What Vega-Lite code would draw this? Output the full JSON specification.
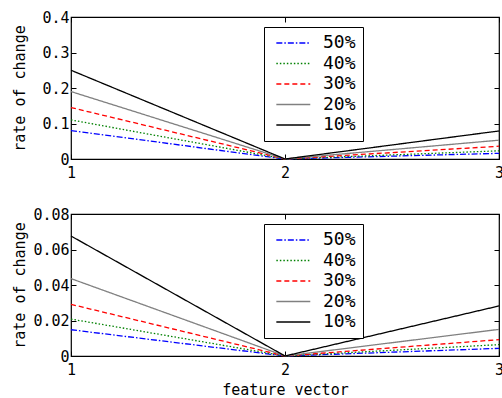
{
  "$schema": "https://vega.github.io/schema/vega-lite/v6.json",
  "background": "white",
  "padding": {"left": 11, "top": 9, "right": 3, "bottom": 2},
  "datasets": {
    "top": [
      {"x": 1, "level": "50%", "value": 0.08},
      {"x": 2, "level": "50%", "value": 0.0},
      {"x": 3, "level": "50%", "value": 0.016},
      {"x": 1, "level": "40%", "value": 0.11},
      {"x": 2, "level": "40%", "value": 0.0},
      {"x": 3, "level": "40%", "value": 0.023},
      {"x": 1, "level": "30%", "value": 0.145},
      {"x": 2, "level": "30%", "value": 0.0},
      {"x": 3, "level": "30%", "value": 0.036},
      {"x": 1, "level": "20%", "value": 0.19},
      {"x": 2, "level": "20%", "value": 0.0},
      {"x": 3, "level": "20%", "value": 0.053},
      {"x": 1, "level": "10%", "value": 0.25},
      {"x": 2, "level": "10%", "value": 0.0},
      {"x": 3, "level": "10%", "value": 0.079}
    ],
    "bottom": [
      {"x": 1, "level": "50%", "value": 0.0148},
      {"x": 2, "level": "50%", "value": 0.0},
      {"x": 3, "level": "50%", "value": 0.0043},
      {"x": 1, "level": "40%", "value": 0.0208},
      {"x": 2, "level": "40%", "value": 0.0},
      {"x": 3, "level": "40%", "value": 0.0064},
      {"x": 1, "level": "30%", "value": 0.0291},
      {"x": 2, "level": "30%", "value": 0.0},
      {"x": 3, "level": "30%", "value": 0.0092},
      {"x": 1, "level": "20%", "value": 0.0436},
      {"x": 2, "level": "20%", "value": 0.0},
      {"x": 3, "level": "20%", "value": 0.015},
      {"x": 1, "level": "10%", "value": 0.0676},
      {"x": 2, "level": "10%", "value": 0.0},
      {"x": 3, "level": "10%", "value": 0.0282}
    ]
  },
  "config": {
    "view": {"stroke": "black", "strokeWidth": 1.2},
    "font": "DejaVu Sans Mono",
    "axis": {
      "domain": false,
      "grid": false,
      "tickSize": -5,
      "tickColor": "black",
      "labelColor": "black",
      "labelFont": "DejaVu Sans Mono",
      "labelFontSize": 15,
      "labelOverlap": false,
      "titleFont": "DejaVu Sans Mono",
      "titleFontSize": 15,
      "titleFontWeight": "normal",
      "titleColor": "black"
    },
    "legend": {
      "orient": "none",
      "legendX": 193,
      "legendY": 10,
      "strokeColor": "black",
      "fillColor": "white",
      "padding": 7,
      "symbolOffset": 2,
      "symbolType": "M-1,0L5,0",
      "symbolSize": 128,
      "symbolStrokeWidth": 1.3,
      "labelFont": "DejaVu Sans Mono",
      "labelFontSize": 18,
      "labelColor": "black",
      "labelOffset": 32,
      "rowPadding": 2.5,
      "title": null
    }
  },
  "vconcat": [
    {
      "width": 428,
      "height": 142,
      "data": {"name": "top"},
      "layer": [
        {
          "mark": {"type": "line", "strokeWidth": 1.3},
          "encoding": {
            "x": {"field": "x", "type": "quantitative", "scale": {"domain": [1, 3], "nice": false},
                  "axis": {"tickCount": 2, "format": "d", "title": null, "labelPadding": 11, "labelFlush": false}},
            "y": {"field": "value", "type": "quantitative", "scale": {"domain": [0, 0.4], "nice": false},
                  "axis": {"values": [0, 0.1, 0.2, 0.3, 0.4], "format": "~g", "title": "rate of change", "labelPadding": 7, "labelFlush": false, "titleX": -52, "titleBaseline": "middle"}},
            "color": {"field": "level", "type": "nominal",
                      "scale": {"domain": ["50%", "40%", "30%", "20%", "10%"], "range": ["#0000ff", "#008000", "#ff0000", "#808080", "#000000"]}},
            "strokeDash": {"field": "level", "type": "nominal",
                      "scale": {"domain": ["50%", "40%", "30%", "20%", "10%"], "range": [[6, 2, 1.5, 2], [1.5, 2], [5, 3], [1, 0], [1, 0]]}}
          }
        },
        {
          "mark": {"type": "line", "strokeOpacity": 0},
          "encoding": {
            "x": {"field": "x", "type": "quantitative", "scale": {"domain": [1, 3], "nice": false},
                  "axis": {"orient": "top", "tickCount": 2, "labels": false, "title": null}},
            "y": {"field": "value", "type": "quantitative", "scale": {"domain": [0, 0.4], "nice": false},
                  "axis": {"orient": "right", "values": [0, 0.1, 0.2, 0.3, 0.4], "labels": false, "title": null}},
            "detail": {"field": "level"}
          }
        }
      ],
      "resolve": {"axis": {"x": "independent", "y": "independent"}}
    },
    {
      "width": 428,
      "height": 142,
      "data": {"name": "bottom"},
      "layer": [
        {
          "mark": {"type": "line", "strokeWidth": 1.3},
          "encoding": {
            "x": {"field": "x", "type": "quantitative", "scale": {"domain": [1, 3], "nice": false},
                  "axis": {"tickCount": 2, "format": "d", "title": "feature vector", "labelPadding": 11, "labelFlush": false, "titlePadding": 5}},
            "y": {"field": "value", "type": "quantitative", "scale": {"domain": [0, 0.08], "nice": false},
                  "axis": {"values": [0, 0.02, 0.04, 0.06, 0.08], "format": "~g", "title": "rate of change", "labelPadding": 7, "labelFlush": false, "titleX": -52, "titleBaseline": "middle"}},
            "color": {"field": "level", "type": "nominal",
                      "scale": {"domain": ["50%", "40%", "30%", "20%", "10%"], "range": ["#0000ff", "#008000", "#ff0000", "#808080", "#000000"]}},
            "strokeDash": {"field": "level", "type": "nominal",
                      "scale": {"domain": ["50%", "40%", "30%", "20%", "10%"], "range": [[6, 2, 1.5, 2], [1.5, 2], [5, 3], [1, 0], [1, 0]]}}
          }
        },
        {
          "mark": {"type": "line", "strokeOpacity": 0},
          "encoding": {
            "x": {"field": "x", "type": "quantitative", "scale": {"domain": [1, 3], "nice": false},
                  "axis": {"orient": "top", "tickCount": 2, "labels": false, "title": null}},
            "y": {"field": "value", "type": "quantitative", "scale": {"domain": [0, 0.08], "nice": false},
                  "axis": {"orient": "right", "values": [0, 0.02, 0.04, 0.06, 0.08], "labels": false, "title": null}},
            "detail": {"field": "level"}
          }
        }
      ],
      "resolve": {"axis": {"x": "independent", "y": "independent"}}
    }
  ],
  "spacing": 25,
  "resolve": {"legend": {"color": "independent", "strokeDash": "independent"}}
}
